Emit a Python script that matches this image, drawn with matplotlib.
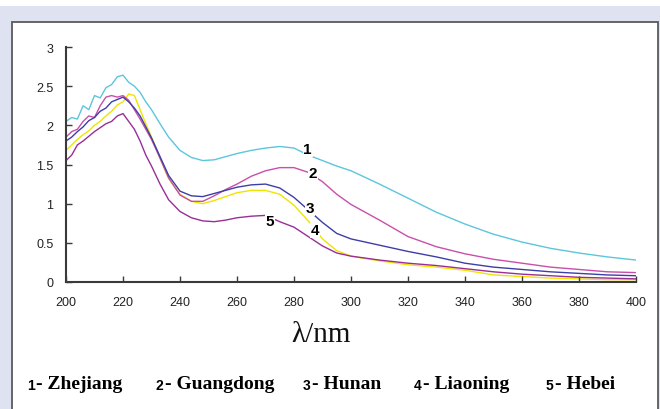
import matplotlib
matplotlib.use("Agg")
import matplotlib.pyplot as plt
from matplotlib.patches import Rectangle

# wavelength grid (nm)
wavelength = [200, 202, 204, 206, 208, 210, 212, 214, 216, 218, 220, 222, 224, 226, 228, 230,
              233, 236, 240, 244, 248, 252, 256, 260, 265, 270, 275, 280, 285, 290, 295, 300,
              310, 320, 330, 340, 350, 360, 370, 380, 390, 400]

zhejiang = [2.05, 2.10, 2.08, 2.25, 2.20, 2.38, 2.35, 2.48, 2.52, 2.62, 2.64, 2.55, 2.50, 2.42, 2.30, 2.20,
            2.02, 1.85, 1.68, 1.59, 1.55, 1.56, 1.60, 1.64, 1.68, 1.71, 1.73, 1.71, 1.62, 1.55, 1.48, 1.42,
            1.25, 1.07, 0.89, 0.74, 0.61, 0.51, 0.43, 0.37, 0.32, 0.28]
guangdong = [1.85, 1.92, 1.95, 2.05, 2.12, 2.10, 2.25, 2.36, 2.38, 2.36, 2.38, 2.32, 2.20, 2.08, 1.95, 1.82,
             1.58, 1.33, 1.11, 1.03, 1.03, 1.10, 1.18, 1.25, 1.35, 1.42, 1.46, 1.46, 1.40, 1.28, 1.12, 0.99,
             0.79, 0.58, 0.45, 0.36, 0.29, 0.24, 0.19, 0.16, 0.13, 0.12]
hunan = [1.80, 1.85, 1.92, 1.98, 2.06, 2.10, 2.18, 2.22, 2.30, 2.33, 2.36, 2.30, 2.22, 2.12, 1.98, 1.84,
         1.60, 1.36, 1.16, 1.10, 1.09, 1.13, 1.17, 1.21, 1.24, 1.25, 1.20, 1.08, 0.92, 0.76, 0.62, 0.55,
         0.47, 0.39, 0.32, 0.24, 0.19, 0.16, 0.13, 0.11, 0.09, 0.08]
liaoning = [1.68, 1.75, 1.82, 1.88, 1.93, 2.00, 2.05, 2.12, 2.18, 2.26, 2.30, 2.40, 2.38, 2.20, 2.02, 1.85,
            1.58, 1.32, 1.12, 1.03, 1.00, 1.04, 1.09, 1.14, 1.17, 1.17, 1.12, 0.98, 0.78, 0.55, 0.40, 0.33,
            0.27, 0.22, 0.19, 0.15, 0.09, 0.07, 0.05, 0.04, 0.03, 0.03]
hebei = [1.55, 1.62, 1.75, 1.80, 1.86, 1.92, 1.97, 2.02, 2.05, 2.12, 2.15, 2.05, 1.95, 1.80, 1.62, 1.48,
         1.25, 1.05, 0.90, 0.82, 0.78, 0.77, 0.79, 0.82, 0.84, 0.85, 0.77, 0.70, 0.58, 0.46, 0.37, 0.33,
         0.28, 0.24, 0.21, 0.17, 0.13, 0.10, 0.08, 0.06, 0.05, 0.04]

series = [zhejiang, guangdong, hunan, liaoning, hebei]
names = ["Zhejiang", "Guangdong", "Hunan", "Liaoning", "Hebei"]
colors = ["#5cc6db", "#c94fa9", "#3d3ea6", "#f0e400", "#9a2e98"]
# where the curve numbers sit (nm, absorbance)
label_pos = [(284.8, 1.70), (286.5, 1.39), (285.6, 0.94), (287.4, 0.66), (271.6, 0.78)]

fig = plt.figure(figsize=(6.6, 4.1), dpi=100, facecolor="#dfe3f1")
W, H = 660, 410
# white strip at the top and the white framed panel
fig.patches.append(Rectangle((0, 1 - 7 / H), 1, 7 / H, transform=fig.transFigure,
                             facecolor="white", edgecolor="none", zorder=-10))
fig.patches.append(Rectangle((12 / W, -0.05), (658 - 12) / W, 1.05 - 23 / H, transform=fig.transFigure,
                             facecolor="white", edgecolor="#5a5a5a", linewidth=1.3, zorder=-9))

ax = fig.add_axes([66 / W, (H - 283) / H, 570 / W, (283 - 48) / H])
ax.set_facecolor("none")

for i, ys in enumerate(series):
    ax.plot(wavelength, ys, color=colors[i], linewidth=1.0, zorder=2 if i != 3 else 1.5)
    x, y = label_pos[i]
    ax.text(x, y, str(i + 1), ha="center", va="center", fontsize=11, fontweight="bold",
            family="Liberation Sans", color="black", zorder=5,
            bbox=dict(facecolor="white", edgecolor="none", pad=0.6))

ax.set_xlim(200, 400)
ax.set_ylim(0, 3)
ax.set_xticks(range(200, 401, 20))
ax.set_yticks([0, 0.5, 1, 1.5, 2, 2.5, 3])
ax.set_yticklabels(["0", "0.5", "1", "1.5", "2", "2.5", "3"])
ax.spines["top"].set_visible(False)
ax.spines["right"].set_visible(False)
for s in ["left", "bottom"]:
    ax.spines[s].set_color("#3a3a3a")
    ax.spines[s].set_linewidth(1.5)
ax.tick_params(direction="in", length=4, width=1, color="#3a3a3a", labelsize=9,
               labelcolor="#222222")
ax.tick_params(axis="x", pad=10)
ax.tick_params(axis="y", pad=9)
for lab in ax.get_xticklabels() + ax.get_yticklabels():
    lab.set_family("Liberation Sans")

fig.text(321 / W, 1 - 335 / H, "λ/nm", ha="center", va="center", fontsize=21,
         family="Liberation Serif", color="#111111")

# legend row at the bottom
num_x = [27, 156, 303, 414, 546]
name_x = [36, 165, 312, 423, 555]
for i in range(5):
    fig.text(num_x[i] / W, 1 - 386 / H, str(i + 1), ha="left", va="center", fontsize=10,
             fontweight="bold", family="Liberation Sans", color="black")
    fig.text(name_x[i] / W, 1 - 385 / H, "- " + names[i], ha="left", va="center", fontsize=14,
             fontweight="bold", family="Liberation Serif", color="black")

fig.savefig("out.png", dpi=100, facecolor=fig.get_facecolor())
